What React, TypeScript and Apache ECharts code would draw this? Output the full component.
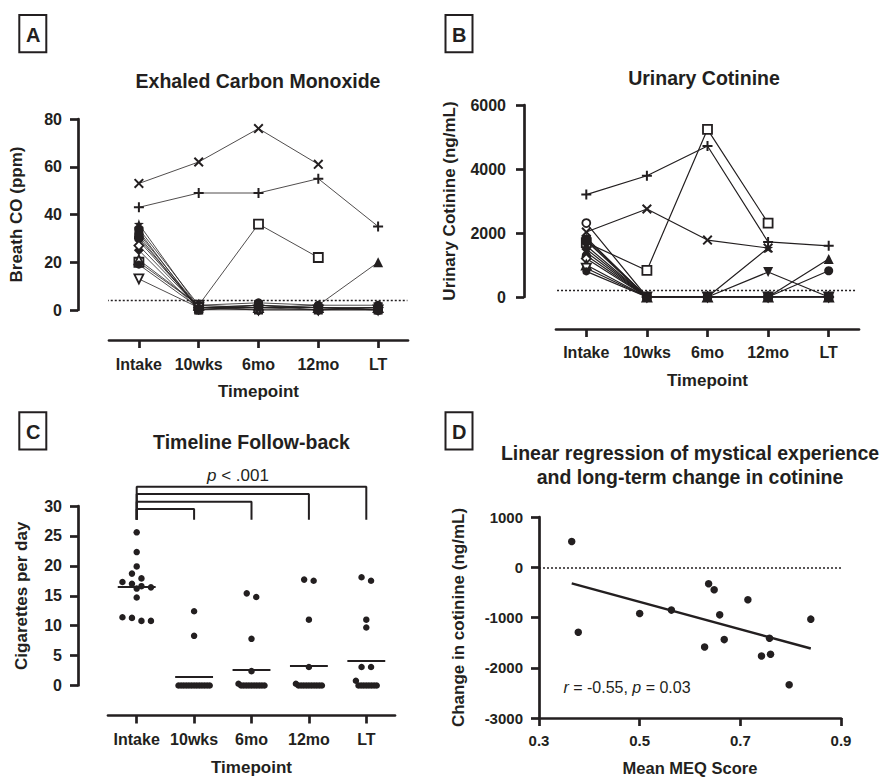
import React, { useEffect, useRef } from 'react';
import * as echarts from 'echarts';

const INK = '#231f20';
const FONT = '"Liberation Sans", Arial, Helvetica, sans-serif';

// ---------- shared ----------
const timepoints = ['Intake', '10wks', '6mo', '12mo', 'LT'];

// ---------- Panel A: Exhaled carbon monoxide (ppm) per participant ----------
const coCross = [53, 62, 76, 61, null];
const coPlus = [43, 49, 49, 55, 35];
const coOpenSquare = [20, 2, 36, 22, null];
const coTriangle = [32, 1, 1, 2, 20];
const coStar = [36, 1, 2, 1, 1];
const coCircle = [34, 2, 3, 2, 2];
const coSquare = [33, 0, 0, 0, 0];
const coOpenCircle = [30, 1, 1, 1, 0];
const coInvTriangle = [29, 1, 2, 0, 1];
const coDiamond = [25, 0, 1, 1, 0];
const coOpenDiamond = [27, 1, 0, 0, 1];
const coOpenTriangle = [21, 2, 1, 1, 1];
const coOpenInvTriangle = [13, 1, 0, 0, 0];
const coRoundSquare = [31, 0, 2, 1, 0];
const coSmallCircle = [19, 1, 1, 0, 0];
const coThreshold = 4;

// ---------- Panel B: Urinary cotinine (ng/mL) per participant ----------
const cotCross = [2030, 2750, 1780, 1530, null];
const cotPlus = [3200, 3790, 4720, 1720, 1600];
const cotOpenSquare = [1700, 830, 5240, 2310, null];
const cotTriangle = [1400, 0, 0, 0, 1190];
const cotStar = [1850, 0, 0, 1530, null];
const cotCircle = [1300, 0, 0, 0, 820];
const cotSquare = [1800, 0, 0, 0, 0];
const cotOpenCircle = [2310, 0, 0, 0, 0];
const cotInvTriangle = [1600, 0, 0, 780, 0];
const cotDiamond = [1500, 0, 0, 0, 0];
const cotOpenDiamond = [1200, 0, 0, 0, 0];
const cotOpenTriangle = [1000, 0, 0, 0, 0];
const cotOpenInvTriangle = [900, 0, 0, 0, 0];
const cotRoundSquare = [1750, 0, 0, 0, 0];
const cotSmallCircle = [800, 0, 0, 0, 0];
const cotThreshold = 200;

// ---------- Panel C: Timeline follow-back (cigarettes per day) ----------
const cigIntake = [25.6, 22.3, 19.9, 18.7, 17.9, 17.3, 17.0, 16.6, 16.4, 16.2, 14.7, 11.4, 11.3, 10.8, 10.8];
const cig10wks = [12.4, 8.3, 0, 0, 0, 0, 0, 0, 0, 0, 0, 0, 0, 0, 0];
const cig6mo = [15.4, 14.8, 7.8, 2.4, 0.3, 0, 0, 0, 0, 0, 0, 0, 0, 0, 0];
const cig12mo = [17.7, 17.5, 11.0, 3.1, 0.3, 0, 0, 0, 0, 0, 0, 0, 0, 0, 0];
const cigLT = [18.1, 17.5, 11.0, 9.7, 3.1, 3.1, 0.8, 0, 0, 0, 0, 0, 0, 0, 0];
const bracketTargets = [1, 2, 3, 4];
const bracketLevels = [29.5, 30.7, 32.0, 33.2];
const bracketBase = 27.7;

// ---------- Panel D: MEQ vs change in cotinine ----------
const meqScore = [0.365, 0.378, 0.5, 0.563, 0.629, 0.637, 0.648, 0.659, 0.668, 0.715, 0.742, 0.758, 0.76, 0.797, 0.84];
const cotinineChange = [513, -1293, -920, -853, -1587, -327, -447, -947, -1440, -647, -1767, -1413, -1733, -2340, -1033];
const meqTicks = [0.3, 0.5, 0.7, 0.9];

// ---------- markers ----------
const CROSS = 'path://M0,1.4L1.4,0L5,3.6L8.6,0L10,1.4L6.4,5L10,8.6L8.6,10L5,6.4L1.4,10L0,8.6L3.6,5Z';
const PLUS = 'path://M4,0H6V4H10V6H6V10H4V6H0V4H4Z';
const STAR = 'path://M5,0L6.2,3.7L10,3.8L7,6.1L8.1,9.8L5,7.6L1.9,9.8L3,6.1L0,3.8L3.8,3.7Z';
const INV_TRI = 'path://M0,0L10,0L5,9Z';

const MARKERS = [
  { symbol: CROSS, hollow: false, size: 10 },
  { symbol: PLUS, hollow: false, size: 10 },
  { symbol: 'rect', hollow: true, size: 9 },
  { symbol: 'triangle', hollow: false, size: 10 },
  { symbol: STAR, hollow: false, size: 10 },
  { symbol: 'circle', hollow: false, size: 9 },
  { symbol: 'rect', hollow: false, size: 9 },
  { symbol: 'circle', hollow: true, size: 8 },
  { symbol: INV_TRI, hollow: false, size: 10 },
  { symbol: 'diamond', hollow: false, size: 10 },
  { symbol: 'diamond', hollow: true, size: 9 },
  { symbol: 'triangle', hollow: true, size: 9 },
  { symbol: INV_TRI, hollow: true, size: 9 },
  { symbol: 'roundRect', hollow: false, size: 9 },
  { symbol: 'circle', hollow: false, size: 8 },
];

const coRows = [coCross, coPlus, coOpenSquare, coTriangle, coStar, coCircle, coSquare, coOpenCircle,
  coInvTriangle, coDiamond, coOpenDiamond, coOpenTriangle, coOpenInvTriangle, coRoundSquare, coSmallCircle];
const cotRows = [cotCross, cotPlus, cotOpenSquare, cotTriangle, cotStar, cotCircle, cotSquare, cotOpenCircle,
  cotInvTriangle, cotDiamond, cotOpenDiamond, cotOpenTriangle, cotOpenInvTriangle, cotRoundSquare, cotSmallCircle];
const cigGroups = [cigIntake, cig10wks, cig6mo, cig12mo, cigLT];

// ---------- layout ----------
const GRID_A = { left: 109, top: 119, width: 299, height: 191 };
const GRID_B = { left: 556, top: 105, width: 303, height: 192 };
const GRID_C = { left: 108, top: 506, width: 287, height: 181 };
const GRID_D = { left: 539, top: 517, width: 302, height: 201 };
const DOT_EXTENT_A = [-0.061, 0.998];
const DOT_EXTENT_B = [-0.089, 0.993];

function participantSeries(rows: any[], xIdx: number, yIdx: number, lw: number) {
  return rows.map((row, i) => {
    const m = MARKERS[i];
    return {
      type: 'line',
      xAxisIndex: xIdx,
      yAxisIndex: yIdx,
      data: row,
      symbol: m.symbol,
      symbolSize: m.size,
      showSymbol: true,
      showAllSymbol: true,
      connectNulls: false,
      silent: true,
      lineStyle: { color: INK, width: lw },
      itemStyle: { color: m.hollow ? '#ffffff' : INK, borderColor: INK, borderWidth: m.hollow ? 1.8 : 0, opacity: 1 },
      z: 3,
    };
  });
}

// beeswarm-like layout computed from data values
function swarm(values: number[], center: number, pxPerX: number, pxPerY: number) {
  const sorted = [...values].sort((a, b) => b - a);
  const rowH = 6 / pxPerY;
  const rows: number[][] = [];
  for (const v of sorted) {
    const last = rows[rows.length - 1];
    if (last && last[0] - v < rowH) last.push(v);
    else rows.push([v]);
  }
  const pts: number[][] = [];
  rows.forEach((row) => {
    const n = row.length;
    const step = n >= 5 ? 2.6 : 9.5;
    row.forEach((v, k) => pts.push([center + ((k - (n - 1) / 2) * step) / pxPerX, v]));
  });
  return pts;
}

function mean(a: number[]) {
  return a.reduce((s, v) => s + v, 0) / a.length;
}

function linearFit(xs: number[], ys: number[]) {
  const mx = mean(xs);
  const my = mean(ys);
  let sxy = 0;
  let sxx = 0;
  xs.forEach((x, i) => {
    sxy += (x - mx) * (ys[i] - my);
    sxx += (x - mx) * (x - mx);
  });
  const b = sxy / sxx;
  return { a: my - b * mx, b };
}

const axisLineStyle = { color: INK, width: 2.7 };
const tickLabel = (size: number, margin: number) => ({
  fontSize: size,
  fontWeight: 'bold',
  fontFamily: FONT,
  color: INK,
  margin,
});
const nameStyle = (size: number) => ({ fontSize: size, fontWeight: 'bold', fontFamily: FONT, color: INK });

function catAxis(grid: number, offset: number, margin: number, nameGap: number) {
  return {
    type: 'category',
    gridIndex: grid,
    data: timepoints,
    boundaryGap: true,
    offset,
    axisLine: { show: true, onZero: false, lineStyle: axisLineStyle },
    axisTick: { show: true, alignWithLabel: true, length: 8, lineStyle: axisLineStyle },
    axisLabel: { ...tickLabel(16, margin), interval: 0 },
    splitLine: { show: false },
    name: 'Timepoint',
    nameLocation: 'middle',
    nameGap,
    nameTextStyle: nameStyle(17),
  };
}

function valAxis(grid: number, min: number, max: number, interval: number, offset: number, margin: number,
  name: string, nameGap: number, labelSize: number) {
  return {
    type: 'value',
    gridIndex: grid,
    min,
    max,
    interval,
    offset,
    axisLine: { show: true, onZero: false, lineStyle: axisLineStyle },
    axisTick: { show: true, length: 8, lineStyle: axisLineStyle },
    axisLabel: { ...tickLabel(labelSize, margin), formatter: (v: number) => String(v) },
    splitLine: { show: false },
    name,
    nameLocation: 'middle',
    nameGap,
    nameTextStyle: nameStyle(17),
  };
}

function letterBox(label: string, x: number, y: number) {
  return {
    type: 'group',
    children: [
      { type: 'rect', shape: { x, y, width: 27, height: 37.3 }, style: { fill: 'none', stroke: INK, lineWidth: 2 } },
      {
        type: 'text',
        x: x + 13.8,
        y: y + 19.5,
        style: { text: label, fontSize: 20, fontWeight: 'bold', fontFamily: FONT, fill: INK, align: 'center', verticalAlign: 'middle' },
      },
    ],
  };
}

function titleText(text: string, x: number, y: number) {
  return {
    type: 'text',
    x,
    y,
    style: { text, fontSize: 19.5, fontWeight: 'bold', fontFamily: FONT, fill: INK, align: 'center', verticalAlign: 'middle', lineHeight: 23.5 },
  };
}

function buildOption() {
  const pxPerXC = GRID_C.width / timepoints.length;
  const pxPerYC = GRID_C.height / 30;
  const swarmPts: number[][] = [];
  cigGroups.forEach((g, i) => swarm(g, i, pxPerXC, pxPerYC).forEach((p) => swarmPts.push(p)));
  const means = cigGroups.map(mean);

  const fit = linearFit(meqScore, cotinineChange);
  const x0 = Math.min(...meqScore);
  const x1 = Math.max(...meqScore);

  const dotted = { color: INK, width: 1.5, type: [2, 2] as any };

  return {
    animation: false,
    backgroundColor: '#ffffff',
    textStyle: { fontFamily: FONT },
    grid: [GRID_A, GRID_B, GRID_C, GRID_D].map((g) => ({ ...g, containLabel: false })),
    xAxis: [
      catAxis(0, 30, 16, 43),
      { type: 'value', gridIndex: 0, min: 0, max: 1, show: false },
      catAxis(1, 32, 15, 42.5),
      { type: 'value', gridIndex: 1, min: 0, max: 1, show: false },
      catAxis(2, 30, 15.5, 43.5),
      { type: 'value', gridIndex: 2, min: -0.5, max: 4.5, show: false },
      {
        type: 'value',
        gridIndex: 3,
        min: 0.3,
        max: 0.9,
        axisLine: { show: true, onZero: false, lineStyle: axisLineStyle },
        axisTick: { show: true, length: 8, lineStyle: axisLineStyle, customValues: meqTicks },
        axisLabel: { ...tickLabel(15, 15), customValues: meqTicks, formatter: (v: number) => v.toFixed(1) },
        splitLine: { show: false },
        name: 'Mean MEQ Score',
        nameLocation: 'middle',
        nameGap: 41,
        nameTextStyle: nameStyle(16.5),
      },
    ],
    yAxis: [
      valAxis(0, 0, 80, 20, 31, 16, 'Breath CO (ppm)', 53.5, 16),
      valAxis(1, 0, 6000, 2000, 32, 18, 'Urinary Cotinine (ng/mL)', 66.5, 16),
      valAxis(2, 0, 30, 5, 30, 16, 'Cigarettes per day', 48, 16),
      valAxis(3, -3000, 1000, 1000, 0, 16, 'Change in cotinine (ng/mL)', 72, 15),
    ],
    series: [
      // Panel A
      {
        type: 'line', xAxisIndex: 1, yAxisIndex: 0, clip: false, symbol: 'none', silent: true,
        data: DOT_EXTENT_A.map((x) => [x, coThreshold]), lineStyle: dotted, z: 1,
      },
      ...participantSeries(coRows, 0, 0, 0.8),
      // Panel B
      {
        type: 'line', xAxisIndex: 3, yAxisIndex: 1, clip: false, symbol: 'none', silent: true,
        data: DOT_EXTENT_B.map((x) => [x, cotThreshold]), lineStyle: dotted, z: 1,
      },
      ...participantSeries(cotRows, 2, 1, 1.2),
      // Panel C
      {
        type: 'scatter', xAxisIndex: 5, yAxisIndex: 2, data: swarmPts, symbol: 'circle', symbolSize: 6.5,
        itemStyle: { color: INK, opacity: 1 }, silent: true,
        markLine: {
          silent: true, symbol: 'none', label: { show: false },
          lineStyle: { color: INK, width: 2, type: 'solid', opacity: 1 },
          data: means.map((m, i) => [{ coord: [i - 0.33, m] }, { coord: [i + 0.33, m] }]),
        },
      },
      ...bracketTargets.map((t, i) => ({
        type: 'line', xAxisIndex: 5, yAxisIndex: 2, clip: false, symbol: 'none', silent: true,
        data: [[0, bracketBase], [0, bracketLevels[i]], [t, bracketLevels[i]], [t, bracketBase]],
        lineStyle: { color: INK, width: 2 },
      })),
      // Panel D
      {
        type: 'scatter', xAxisIndex: 6, yAxisIndex: 3, symbol: 'circle', symbolSize: 7.5, silent: true,
        data: meqScore.map((x, i) => [x, cotinineChange[i]]),
        itemStyle: { color: INK, opacity: 1 },
        markLine: {
          silent: true, symbol: 'none', label: { show: false }, lineStyle: { ...dotted, opacity: 1 },
          data: [{ yAxis: 0 }],
        },
      },
      {
        type: 'line', xAxisIndex: 6, yAxisIndex: 3, symbol: 'none', silent: true,
        data: [[x0, fit.a + fit.b * x0], [x1, fit.a + fit.b * x1]],
        lineStyle: { color: INK, width: 2.5 },
      },
    ],
    graphic: [
      letterBox('A', 19.3, 15),
      letterBox('B', 445.5, 15),
      letterBox('C', 19.3, 412.3),
      letterBox('D', 445.5, 412.3),
      titleText('Exhaled Carbon Monoxide', 258, 80.5),
      titleText('Urinary Cotinine', 704, 78),
      titleText('Timeline Follow-back', 251.5, 442),
      titleText('Linear regression of mystical experience\nand long-term change in cotinine', 690, 465),
      {
        type: 'text', x: 238, y: 475,
        style: {
          text: '{i|p} < .001', fontSize: 17, fontFamily: FONT, fill: INK, align: 'center', verticalAlign: 'middle',
          rich: { i: { fontStyle: 'italic', fontSize: 17, fontFamily: FONT, fill: INK } },
        },
      },
      {
        type: 'text', x: 627, y: 687,
        style: {
          text: '{i|r} = -0.55, {i|p} = 0.03', fontSize: 16, fontFamily: FONT, fill: INK, align: 'center', verticalAlign: 'middle',
          rich: { i: { fontStyle: 'italic', fontSize: 16, fontFamily: FONT, fill: INK } },
        },
      },
    ],
  };
}

export default function App() {
  const ref = useRef<HTMLDivElement>(null);
  useEffect(() => {
    if (!ref.current) return;
    const chart = echarts.init(ref.current, undefined, { renderer: 'svg' });
    chart.setOption(buildOption() as any);
    return () => chart.dispose();
  }, []);
  return (
    <div
      ref={ref}
      style={{ position: 'fixed', left: 0, top: 0, width: 888, height: 777, background: '#ffffff' }}
    />
  );
}
